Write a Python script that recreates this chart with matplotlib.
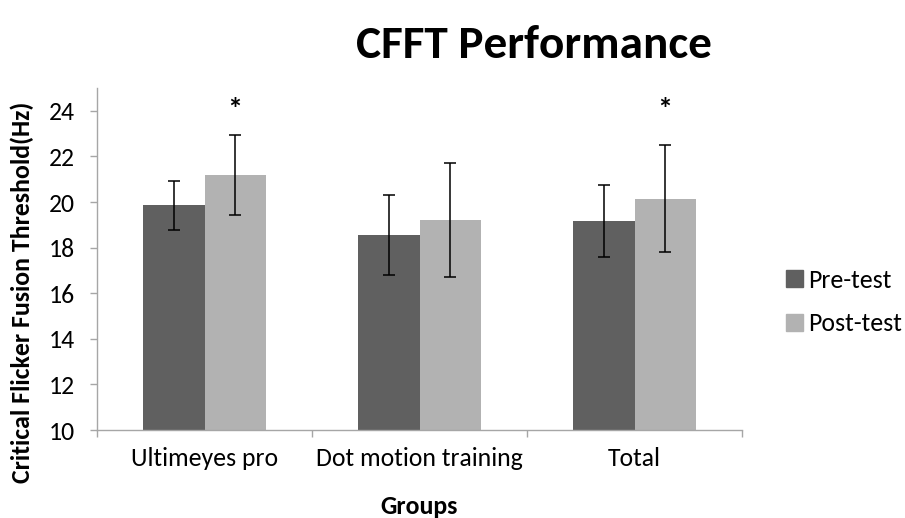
import matplotlib
matplotlib.use("Agg")
import matplotlib.pyplot as plt
import numpy as np
from matplotlib.patches import Patch

categories = ["Ultimeyes pro", "Dot motion training", "Total"]
pre_values = [19.85, 18.56, 19.18]
post_values = [21.19, 19.21, 20.15]
pre_err = [1.08, 1.75, 1.58]
post_err = [1.74, 2.48, 2.33]
significant = [True, False, True]
series_names = ["Pre-test", "Post-test"]
yticks = [10, 12, 14, 16, 18, 20, 22, 24]

FONT = ["Carlito", "DejaVu Sans"]
FS = 18.5
pre_color = "#606060"
post_color = "#b2b2b2"
axis_color = "#a6a6a6"

fig = plt.figure(figsize=(9.05, 5.18), dpi=100)
ax = fig.add_axes([97/905, 1-430/518, (742-97)/905, (430-88)/518])

x = np.arange(len(categories))
w = 0.284
ax.bar(x - w/2, pre_values, w, color=pre_color, edgecolor="none", zorder=2)
ax.bar(x + w/2, post_values, w, color=post_color, edgecolor="none", zorder=2)
ax.errorbar(x - w/2, pre_values, yerr=pre_err, fmt="none", ecolor="black",
            elinewidth=1.1, capsize=4.5, capthick=1.1, zorder=3)
ax.errorbar(x + w/2, post_values, yerr=post_err, fmt="none", ecolor="black",
            elinewidth=1.1, capsize=4.5, capthick=1.1, zorder=3)
for i, s in enumerate(significant):
    if s:
        ax.text(x[i] + w/2, 24.05, "*", ha="center", va="center",
                fontsize=22, fontweight="bold", family=FONT)

ax.set_xlim(-0.5, len(categories) - 0.5)
ax.set_ylim(10, 25)
ax.set_yticks(yticks)
ax.set_yticklabels([str(t) for t in yticks], family=FONT, fontsize=FS)
ax.set_xticks(x)
ax.set_xticklabels(categories, family=FONT, fontsize=FS)
ax.tick_params(axis="x", length=0, pad=12)
ax.set_xticks(np.arange(-0.5, len(categories), 1.0), minor=True)
ax.tick_params(axis="x", which="minor", length=5, color=axis_color, width=1)
ax.tick_params(axis="y", length=5, color=axis_color, width=1, pad=11)

for side in ["top", "right"]:
    ax.spines[side].set_visible(False)
for side in ["left", "bottom"]:
    ax.spines[side].set_color(axis_color)
    ax.spines[side].set_linewidth(1)

ax.set_xlabel("Groups", family=FONT, fontsize=FS, fontweight="bold")
ax.xaxis.set_label_coords(0.5, (518-506-88)/342)
ax.xaxis.label.set_va("center")
ax.set_ylabel("Critical Flicker Fusion Threshold(Hz)", family=FONT, fontsize=FS,
              fontweight="bold")
ax.yaxis.set_label_coords((22-97)/645, (518-292-88)/342)
ax.yaxis.label.set_va("center")

fig.text(534/905, 1-45/518, "CFFT Performance", family=FONT, fontsize=34,
         fontweight="bold", ha="center", va="center")

handles = [Patch(color=pre_color), Patch(color=post_color)]
leg = fig.legend(handles, series_names, loc="center left",
                 bbox_to_anchor=(786/905, 1-302/518), frameon=False,
                 prop={"family": FONT, "size": FS}, handlelength=0.66,
                 handleheight=0.66, handletextpad=0.2, labelspacing=0.8,
                 borderpad=0, borderaxespad=0)

fig.savefig("out.png", dpi=100)
